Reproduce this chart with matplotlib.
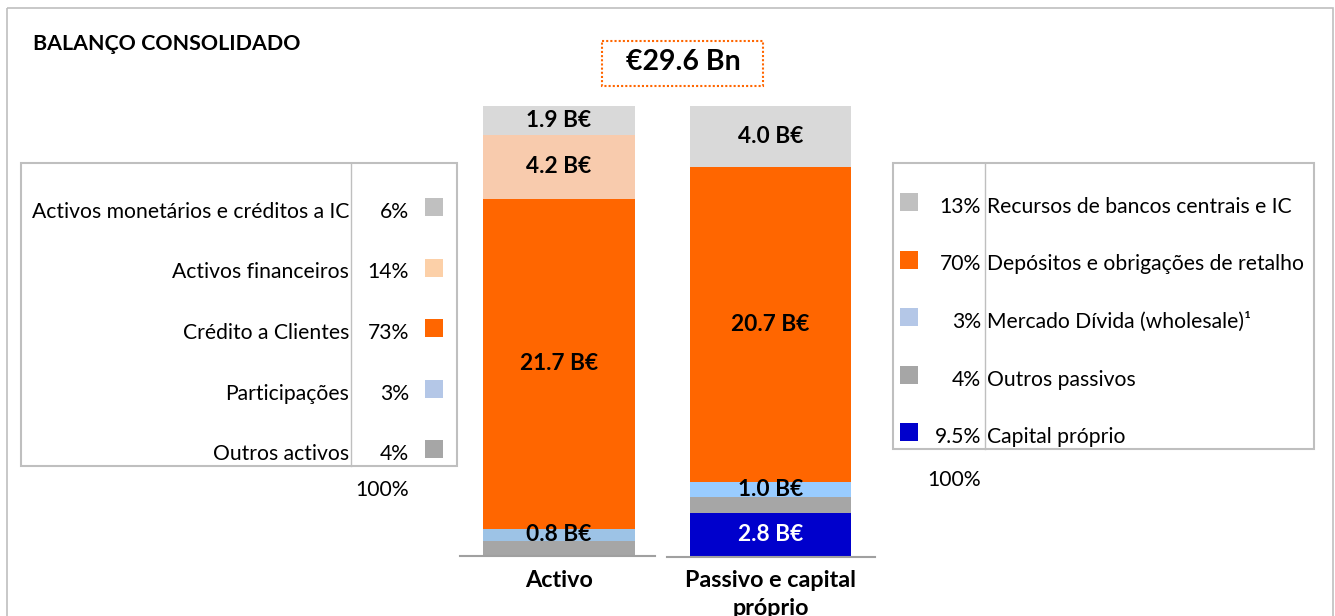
import matplotlib
matplotlib.use("Agg")
import matplotlib.pyplot as plt
from matplotlib.patches import Rectangle

plt.rcParams['font.family'] = ['Lato', 'DejaVu Sans']

# data (B€), bottom to top
activo_names = ["Outros activos", "Participações", "Crédito a Clientes",
                "Activos financeiros", "Activos monetários e créditos a IC"]
activo_vals = [1.0, 0.8, 21.7, 4.2, 1.9]
activo_pct = ["4%", "3%", "73%", "14%", "6%"]
activo_show = [False, True, True, True, True]

passivo_names = ["Capital próprio", "Outros passivos", "Mercado Dívida (wholesale)¹",
                 "Depósitos e obrigações de retalho", "Recursos de bancos centrais e IC"]
passivo_vals = [2.8, 1.1, 1.0, 20.7, 4.0]
passivo_pct = ["9.5%", "4%", "3%", "70%", "13%"]
passivo_show = [True, False, True, True, True]

categories = ["Activo", "Passivo e capital\npróprio"]
total_label = "€29.6 Bn"
title = "BALANÇO CONSOLIDADO"

activo_colors = ["#a6a6a6", "#9dc3e6", "#ff6600", "#f8cbad", "#d9d9d9"]
activo_keys = ["#a6a6a6", "#b4c7e7", "#ff6600", "#fcd0a8", "#c0c0c0"]
passivo_colors = ["#0000cc", "#a6a6a6", "#99ccff", "#ff6600", "#d9d9d9"]
passivo_keys = ["#0000cc", "#a6a6a6", "#b4c7e7", "#ff6600", "#c0c0c0"]

W, H = 1335, 616
fig = plt.figure(figsize=(W / 100, H / 100), dpi=100)

# overlay in pixel coordinates for frames and tables
ov = fig.add_axes([0, 0, 1, 1])
ov.set_xlim(0, W)
ov.set_ylim(H, 0)
ov.axis('off')

ov.add_patch(Rectangle((7, 8), 1326, 640, fill=False, ec="#bfbfbf", lw=1.2))
ov.text(33, 44, title, fontsize=15.4, fontweight='bold', va='center', ha='left')

# total box
ov.text(683, 62, total_label, fontsize=20.5, fontweight='bold', ha='center', va='center')
ov.add_patch(Rectangle((602, 41), 161, 45, fill=False, ec="#ff6600", lw=1.5, ls=(0, (1, 1))))

fs = 15.2
# left table
ov.add_patch(Rectangle((21, 163), 436, 303, fill=False, ec="#bfbfbf", lw=1.5))
ov.plot([351, 351], [163, 466], color="#bfbfbf", lw=1)
for i in range(5):
    j = 4 - i
    y = 212 + i * 60.5
    ov.text(349, y, activo_names[j], fontsize=fs, ha='right', va='center')
    ov.text(409, y, activo_pct[j], fontsize=fs, ha='right', va='center')
    ov.add_patch(Rectangle((425, y - 14), 18, 18, color=activo_keys[j], lw=0))
ov.text(409, 490, "100%", fontsize=fs, ha='right', va='center')

# right table
ov.add_patch(Rectangle((893, 163), 421, 286, fill=False, ec="#bfbfbf", lw=1.5))
ov.plot([985, 985], [163, 449], color="#bfbfbf", lw=1)
for i in range(5):
    j = 4 - i
    y = 207 + i * 57.5
    ov.text(981, y, passivo_pct[j], fontsize=fs, ha='right', va='center')
    ov.text(987, y, passivo_names[j], fontsize=fs, ha='left', va='center')
    ov.add_patch(Rectangle((900, y - 14), 18, 18, color=passivo_keys[j], lw=0))
ov.text(981, 480, "100%", fontsize=fs, ha='right', va='center')

# stacked bars
ax = fig.add_axes([460 / W, (H - 556) / H, 415 / W, 456 / H])
ax.set_xlim(-0.468, 1.494)
ax.set_ylim(0, 30.0)
ax.axis('off')

widths = [0.72, 0.76]
for k, (vals, cols, show) in enumerate([(activo_vals, activo_colors, activo_show),
                                          (passivo_vals, passivo_colors, passivo_show)]):
    bottom = 0
    for v, c, s in zip(vals, cols, show):
        ax.bar(k, v, bottom=bottom, width=widths[k], color=c, lw=0)
        if s:
            tc = 'white' if c == "#0000cc" else 'black'
            ax.text(k, bottom + v / 2, f"{v:.1f} B€", ha='center', va='center',
                    fontsize=16.3, fontweight='bold', color=tc)
        bottom += v

ax.plot([-0.468, 0.454], [0, 0], color="#a0a0a0", lw=1.5, clip_on=False)
ax.plot([0.511, 1.494], [-0.05, -0.05], color="#a0a0a0", lw=1.5, clip_on=False)

for k, lab in enumerate(categories):
    ax.text(k, -0.9, lab, ha='center', va='top', fontsize=16.8, fontweight='bold',
            linespacing=1.45, clip_on=False)

fig.savefig("out.png", dpi=100)
